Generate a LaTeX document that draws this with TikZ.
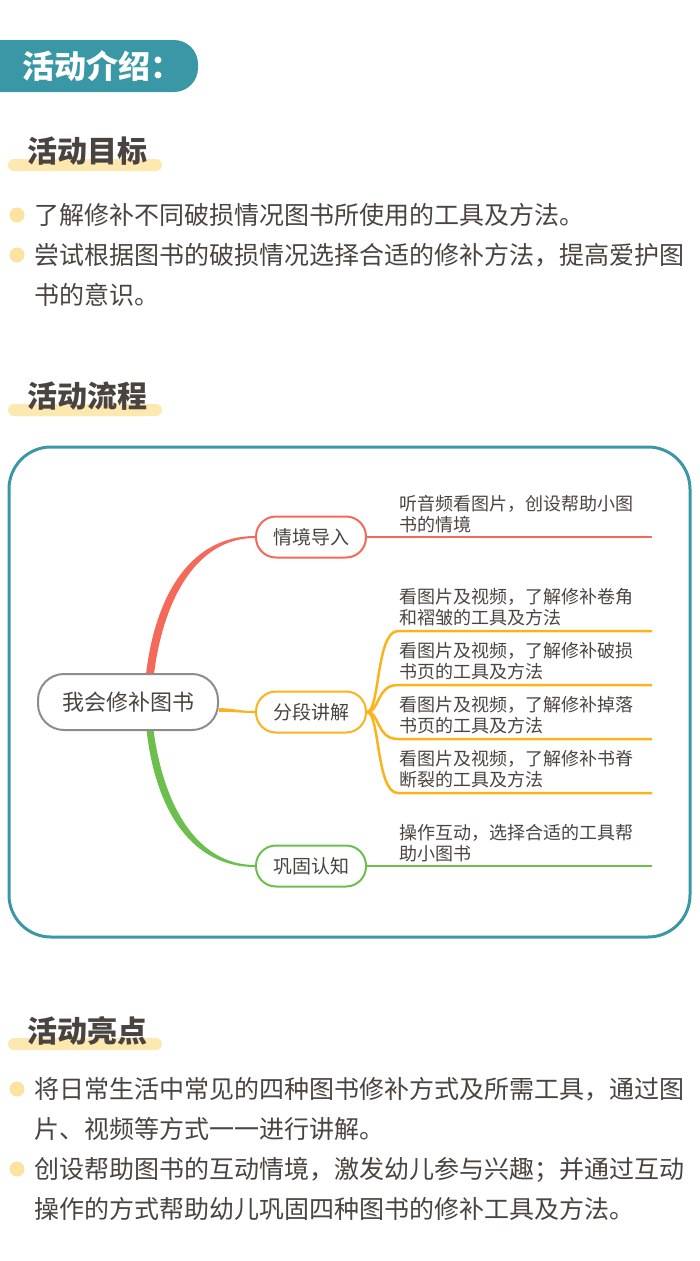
\documentclass[tikz,border=0pt]{standalone}
\usepackage{fontspec}
\setmainfont{Noto Sans CJK SC}
\usetikzlibrary{calc,backgrounds}
\definecolor{ink}{HTML}{4A4440}
\definecolor{tealframe}{HTML}{3A98A6}
\definecolor{baryellow}{HTML}{FDE8B0}
\definecolor{dotyellow}{HTML}{FDE3A0}
\definecolor{redline}{HTML}{F4695A}
\definecolor{orangeline}{HTML}{FBB21B}
\definecolor{greenline}{HTML}{6CBF4C}
\definecolor{rootgray}{HTML}{8C8C8C}
\begin{document}
\begin{tikzpicture}[x=1pt,y=-1pt,
  heading/.style={anchor=base west,inner sep=0,font=\fontsize{30}{30}\selectfont\bfseries,text=ink},
  body/.style={anchor=base west,inner sep=0,align=left,font=\fontsize{25}{40}\selectfont,text=ink},
  root/.style={draw=rootgray,line width=2pt,fill=white,rounded corners=26pt,minimum width=180pt,minimum height=56pt,font=\fontsize{22}{22}\selectfont,text=ink},
  branch/.style={draw=#1,line width=2pt,fill=white,rounded corners=20pt,minimum width=110pt,minimum height=41pt,font=\fontsize{19}{19}\selectfont,text=ink},
  leaf/.style={anchor=base west,inner sep=0,align=left,font=\fontsize{18}{21}\selectfont,text=ink}
]
\useasboundingbox (0,0) rectangle (700,1261);

% title banner
\fill[tealframe,rounded corners=24pt] (-40,40) rectangle (198,92);
\node[anchor=base west,inner sep=0,font=\fontsize{32}{32}\selectfont\bfseries,text=white] (title) at (22,78) {活动介绍：};

% goals
\fill[baryellow,rounded corners=6pt] (8,159) rectangle (162,171);
\node[heading] (goals) at (27,162) {活动目标};
\fill[dotyellow] (17,215) circle (7.5pt);
\fill[dotyellow] (17,255) circle (7.5pt);
\node[body] (goal1) at (34,224.5) {了解修补不同破损情况图书所使用的工具及方法。};
\node[body] (goal2) at (34,304.5) {尝试根据图书的破损情况选择合适的修补方法，提高爱护图\\书的意识。};

% process
\fill[baryellow,rounded corners=6pt] (8,404) rectangle (162,416);
\node[heading] (process) at (27,407) {活动流程};
\draw[tealframe,line width=3pt,rounded corners=42pt] (9,447) rectangle (690,937);

\node[root] (root) at (128,702) {我会修补图书};
\node[branch=redline] (intro) at (311,537) {情境导入};
\node[branch=orangeline] (learn) at (311,712) {分段讲解};
\node[branch=greenline] (review) at (311,866) {巩固认知};

\begin{scope}[on background layer]
\coordinate (rs) at ([xshift=22pt]root.north);
\coordinate (gs) at ([xshift=22pt]root.south);
\coordinate (os) at ([yshift=-8pt]root.east);
\fill[redline] ($(rs)+(-4,1)$) .. controls ($(rs)+(6,-82)$) and ($(intro.west)+(-62,-1)$) .. ($(intro.west)+(0,-1)$)
  -- ($(intro.west)+(0,1)$) .. controls ($(intro.west)+(-56,1)$) and ($(rs)+(14,-78)$) .. ($(rs)+(4,1)$) -- cycle;
\fill[greenline] ($(gs)+(-3.5,-1)$) .. controls ($(gs)+(6,82)$) and ($(review.west)+(-62,1)$) .. ($(review.west)+(0,1)$)
  -- ($(review.west)+(0,-1)$) .. controls ($(review.west)+(-56,-1)$) and ($(gs)+(14,78)$) .. ($(gs)+(3.5,-1)$) -- cycle;
\fill[orangeline] ($(os)+(0,-2)$) .. controls ($(os)+(15,-1.5)$) and ($(learn.west)+(-15,-1)$) .. ($(learn.west)+(0,-1)$)
  -- ($(learn.west)+(0,1)$) .. controls ($(learn.west)+(-15,1)$) and ($(os)+(15,1.5)$) .. ($(os)+(0,2)$) -- cycle;
\end{scope}

\coordinate (introend) at (652,537);
\draw[redline,line width=2.5pt] (intro.east) -- (introend);
\node[leaf] (leaf0) at (399,531) {听音频看图片，创设帮助小图\\书的情境};

\foreach \ly/\txt [count=\i] in {631/{看图片及视频，了解修补卷角\\和褶皱的工具及方法},
  685/{看图片及视频，了解修补破损\\书页的工具及方法},
  739/{看图片及视频，了解修补掉落\\书页的工具及方法},
  793/{看图片及视频，了解修补书脊\\断裂的工具及方法}}{
  \coordinate (learnend\i) at (652,\ly);
  \draw[orangeline,line width=2.5pt] (learn.east) .. controls (380,712) and (376,\ly) .. (398,\ly) -- (learnend\i);
  \node[leaf] (leaf\i) at (399,\ly-7) {\txt};
}

\coordinate (reviewend) at (652,866);
\draw[greenline,line width=2.5pt] (review.east) -- (reviewend);
\node[leaf] (leaf5) at (399,860) {操作互动，选择合适的工具帮\\助小图书};

% highlights
\fill[baryellow,rounded corners=6pt] (8,1038) rectangle (162,1050);
\node[heading] (highlights) at (27,1042) {活动亮点};
\fill[dotyellow] (17,1089) circle (7.5pt);
\fill[dotyellow] (17,1169) circle (7.5pt);
\node[body] (point1) at (34,1138.5) {将日常生活中常见的四种图书修补方式及所需工具，通过图\\片、视频等方式一一进行讲解。};
\node[body] (point2) at (34,1218.5) {创设帮助图书的互动情境，激发幼儿参与兴趣；并通过互动\\操作的方式帮助幼儿巩固四种图书的修补工具及方法。};
\end{tikzpicture}
\end{document}
